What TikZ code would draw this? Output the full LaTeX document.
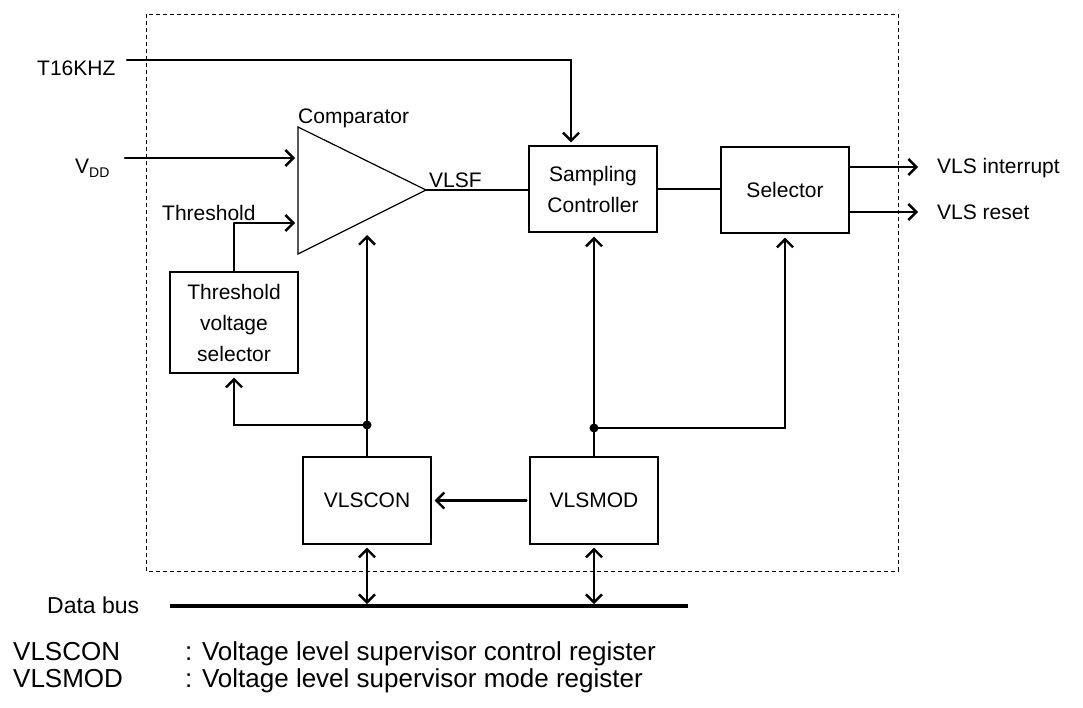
\documentclass[tikz,border=0pt]{standalone}
\usepackage{fontspec}
\setmainfont{Liberation Sans}
\usetikzlibrary{arrows.meta, calc}
\newcommand{\mainsize}{\fontsize{21}{31}\selectfont}
\newcommand{\notesize}{\fontsize{26}{26}\selectfont}
\tikzset{
    block/.style={draw, line width=1.2pt, minimum width=128pt, minimum height=87pt,
        inner sep=0pt, align=center, font=\mainsize},
    boundary/.style={line width=0.9pt, dash pattern=on 4pt off 3pt},
    wire/.style={line width=1.2pt},
    sig/.style={line width=2.4pt, line cap=round,
        -{Straight Barb[length=8pt, width=16pt, line width=2.4pt]}},
    dsig/.style={line width=2.4pt,
        {Straight Barb[length=8pt, width=16pt, line width=2.4pt]}-{Straight Barb[length=8pt, width=16pt, line width=2.4pt]}},
    dot/.style={circle, fill, inner sep=0pt, minimum size=9pt},
    common settings/.style={x=1pt, y=-1pt, font=\mainsize}
}

\begin{document}
\begin{tikzpicture}[common settings]
    \useasboundingbox (0,0) rectangle (1083,707);

    % 1. Chip boundary
    \draw[boundary] (146,14) rectangle (898,571);

    % 2. Blocks
    \node[block, minimum height=101pt] (tvs) at (234,322.5) {Threshold\\voltage\\selector};
    \node[block, minimum height=86pt] (samp) at (593,189) {Sampling\\Controller};
    \node[block, minimum height=86pt] (sel) at (785,190) {Selector};
    \node[block] (con) at (367,500.5) {VLSCON};
    \node[block] (mod) at (594,500.5) {VLSMOD};

    % Comparator triangle
    \coordinate (cmpTL) at (298,127);
    \coordinate (cmpBL) at (298,254);
    \coordinate (cmpTip) at (426,190);
    \draw[wire] (cmpTL) -- (cmpBL) -- (cmpTip) -- cycle;
    \node[anchor=base west, inner sep=0pt] (cmpLbl) at (298,123) {Comparator};

    % 3. Inputs
    \node[anchor=base west, inner sep=0pt] (tLbl) at (37,75) {T16KHZ};
    \coordinate (tIn) at (127,60);
    \coordinate (tDrop) at (571,60);
    \draw[sig, shorten >=3pt] (tIn) -- (tDrop) -- (tDrop |- samp.north);

    \node[anchor=base west, inner sep=0pt] (vddLbl) at (75,173)
        {V\raisebox{-4pt}{\fontsize{14}{14}\selectfont DD}};
    \coordinate (vddIn) at (125,158);
    \draw[sig, shorten >=3pt] (vddIn) -- (vddIn -| cmpTL);

    \node[anchor=base west, inner sep=0pt] (thrLbl) at (162,220) {Threshold};
    \coordinate (thrBend) at (234,223);
    \coordinate (thrIn) at (298,223);
    \draw[wire] (tvs.north) -- (thrBend);
    \draw[sig, shorten >=3pt] (thrBend) -- (thrIn);

    % 4. Data path
    \draw[wire] (cmpTip) -- (cmpTip -| samp.west);
    \node[anchor=base west, inner sep=0pt] (vlsfLbl) at (429,187) {VLSF};
    \draw[wire] (samp.east) -- (samp.east -| sel.west);

    % Outputs
    \node[anchor=base west, inner sep=0pt] (intLbl) at (937,173) {VLS interrupt};
    \node[anchor=base west, inner sep=0pt] (rstLbl) at (937,219) {VLS reset};
    \coordinate (intOut) at (918,167);
    \coordinate (rstOut) at (918,212);
    \draw[sig] (sel.east |- intOut) -- (intOut);
    \draw[sig] (sel.east |- rstOut) -- (rstOut);

    % 5. Control lines from the registers
    \coordinate (cmpIn) at (367,235);
    \coordinate (conTap) at (367,425);
    \draw[sig] (con.north) -- (cmpIn);
    \draw[sig, shorten >=4pt] (conTap) -| (tvs.south);
    \node[dot] (conDot) at (conTap) {};

    \coordinate (modTap) at (594,428);
    \draw[sig, shorten >=4pt] (mod.north) -- (mod.north |- samp.south);
    \draw[sig, shorten >=4pt] (modTap) -| (sel.south);
    \node[dot] (modDot) at (modTap) {};

    \draw[sig, shorten <=3pt, shorten >=3pt] (mod.west) -- (con.east);

    % 6. Data bus
    \node[anchor=base west, inner sep=0pt, font=\fontsize{23}{23}\selectfont] (busLbl) at (47,613) {Data bus};
    \coordinate (busL) at (170,606);
    \coordinate (busR) at (688,606);
    \draw[line width=4pt] (busL) -- (busR);
    \draw[dsig, shorten <=3pt, shorten >=2pt] (con.south) -- (con.south |- busL);
    \draw[dsig, shorten <=3pt, shorten >=2pt] (mod.south) -- (mod.south |- busL);

    % 7. Legend
    \node[anchor=base west, inner sep=0pt, font=\notesize] (conKey) at (13,660) {VLSCON};
    \node[anchor=base west, inner sep=0pt, font=\notesize] (conNote) at (185,660) {: Voltage level supervisor control register};
    \node[anchor=base west, inner sep=0pt, font=\notesize] (modKey) at (13,687) {VLSMOD};
    \node[anchor=base west, inner sep=0pt, font=\notesize] (modNote) at (185,687) {: Voltage level supervisor mode register};
\end{tikzpicture}
\end{document}
